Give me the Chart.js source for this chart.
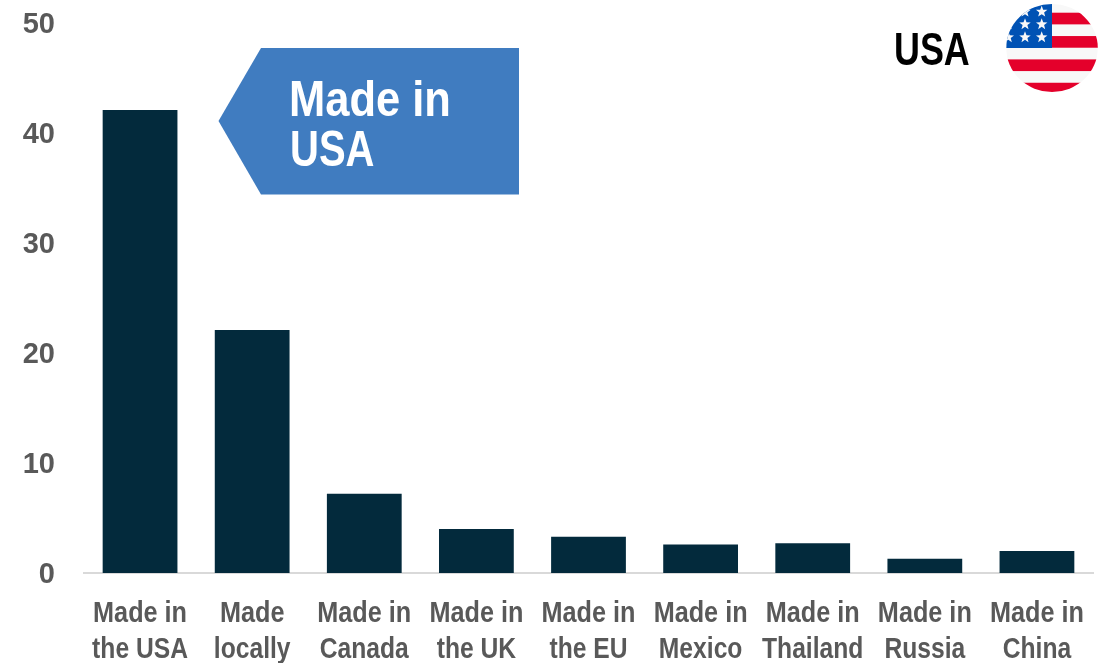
<!DOCTYPE html>
<html>
<head>
<meta charset="utf-8">
<style>
  html, body { margin: 0; padding: 0; background: #fff; }
  #wrap { width: 1112px; height: 663px; }
</style>
<script src="https://cdn.jsdelivr.net/npm/chart.js@4"></script>
</head>
<body>
<div id="wrap"><canvas id="origin-chart"></canvas></div>
<script>
var categories = [
    ['Made in', 'the USA'],
    ['Made', 'locally'],
    ['Made in', 'Canada'],
    ['Made in', 'the UK'],
    ['Made in', 'the EU'],
    ['Made in', 'Mexico'],
    ['Made in', 'Thailand'],
    ['Made in', 'Russia'],
    ['Made in', 'China']
];
var shares = [42.1, 22.1, 7.2, 4.0, 3.3, 2.6, 2.7, 1.3, 2.0];
var yTicks = [0, 10, 20, 30, 40, 50];

var fontFamily = '"Liberation Sans", sans-serif';

// no condensed face is installed, so squeeze the text horizontally
function narrowText(ctx, text, x, y, squeeze, align) {
    ctx.save();
    ctx.textAlign = align;
    ctx.textBaseline = 'alphabetic';
    ctx.translate(x, y);
    ctx.scale(squeeze, 1);
    ctx.fillText(text, 0, 0);
    ctx.restore();
}

function drawStar(ctx, cx, cy, r) {
    ctx.beginPath();
    for (var i = 0; i < 10; i++) {
        var rad = i % 2 ? r * 0.42 : r;
        var a = -Math.PI / 2 + i * Math.PI / 5;
        ctx.lineTo(cx + rad * Math.cos(a), cy + rad * Math.sin(a));
    }
    ctx.closePath();
    ctx.fill();
}

// axis labels, placed from the library's scales
var axisLabelPlugin = {
    id: 'axisLabels',
    afterDraw: function(chart) {
        var ctx = chart.ctx;
        var xScale = chart.scales.x, yScale = chart.scales.y;
        ctx.save();
        ctx.fillStyle = '#595959';
        ctx.font = 'bold 29px ' + fontFamily;
        categories.forEach(function(lines, i) {
            var px = xScale.getPixelForTick(i);
            narrowText(ctx, lines[0], px, 622, 0.87, 'center');
            narrowText(ctx, lines[1], px, 658, 0.85, 'center');
        });
        yTicks.forEach(function(v) {
            narrowText(ctx, String(v), 55, yScale.getPixelForValue(v) + 10, 1, 'right');
        });
        ctx.restore();
    }
};

// callout arrow pointing at the first bar
var calloutPlugin = {
    id: 'callout',
    afterDraw: function(chart) {
        var ctx = chart.ctx;
        ctx.save();
        ctx.fillStyle = '#407cc0';
        ctx.beginPath();
        ctx.moveTo(218.5, 121);
        ctx.lineTo(261, 48);
        ctx.lineTo(519, 48);
        ctx.lineTo(519, 194.5);
        ctx.lineTo(261, 194.5);
        ctx.closePath();
        ctx.fill();
        ctx.fillStyle = '#fff';
        ctx.font = 'bold 50px ' + fontFamily;
        narrowText(ctx, 'Made in', 289, 116, 0.87, 'left');
        narrowText(ctx, 'USA', 290, 166, 0.8, 'left');
        ctx.restore();
    }
};

// country tag and round flag in the top right corner
var flagPlugin = {
    id: 'flag',
    afterDraw: function(chart) {
        var ctx = chart.ctx;
        var cx = 1052, cy = 48, rx = 45.8, ry = 44;
        ctx.save();
        ctx.fillStyle = '#000';
        ctx.font = 'bold 46px ' + fontFamily;
        narrowText(ctx, 'USA', 894, 65, 0.78, 'left');

        ctx.beginPath();
        ctx.ellipse(cx, cy, rx, ry, 0, 0, Math.PI * 2);
        ctx.clip();
        ctx.fillStyle = '#f8f8f8';
        ctx.fillRect(cx - rx, cy - ry, rx * 2, ry * 2);
        ctx.fillStyle = '#e4002b';
        for (var i = 0; i < 4; i++) {
            ctx.fillRect(cx - (i < 2 ? 0 : rx), 12.7 + i * 23.35, rx * 2, 11.67);
        }
        ctx.fillStyle = '#0052b4';
        ctx.fillRect(cx - rx, cy - ry, rx, ry);
        ctx.fillStyle = '#f8f8f8';
        [[1041.7, 11.7], [1025, 11.7], [1041.7, 24.3], [1025, 24.3], [1041.7, 37.3], [1025, 37.3], [1008.3, 37.3], [1008.3, 24.3]].forEach(function(s) {
            drawStar(ctx, s[0], s[1], 6);
        });
        ctx.restore();
    }
};

new Chart(document.getElementById('origin-chart'), {
    type: 'bar',
    data: {
        labels: categories,
        datasets: [{
            data: shares,
            backgroundColor: '#032a3c',
            borderWidth: 0,
            categoryPercentage: 1,
            barPercentage: 0.667
        }]
    },
    options: {
        responsive: true,
        maintainAspectRatio: false,
        animation: false,
        layout: { padding: { top: 23, right: 19, left: 0, bottom: 0 } },
        plugins: { legend: { display: false }, tooltip: { enabled: false } },
        scales: {
            x: {
                grid: { display: false, drawTicks: false },
                border: { color: '#d9d9d9', width: 2 },
                afterFit: function(scale) { scale.height = 90; },
                ticks: { display: false }
            },
            y: {
                min: 0,
                max: 50,
                afterBuildTicks: function(scale) {
                    scale.ticks = yTicks.map(function(v) { return { value: v }; });
                },
                afterFit: function(scale) { scale.width = 84; },
                grid: { display: false, drawTicks: false },
                border: { display: false },
                ticks: { display: false }
            }
        }
    },
    plugins: [axisLabelPlugin, calloutPlugin, flagPlugin]
});
</script>
</body>
</html>
